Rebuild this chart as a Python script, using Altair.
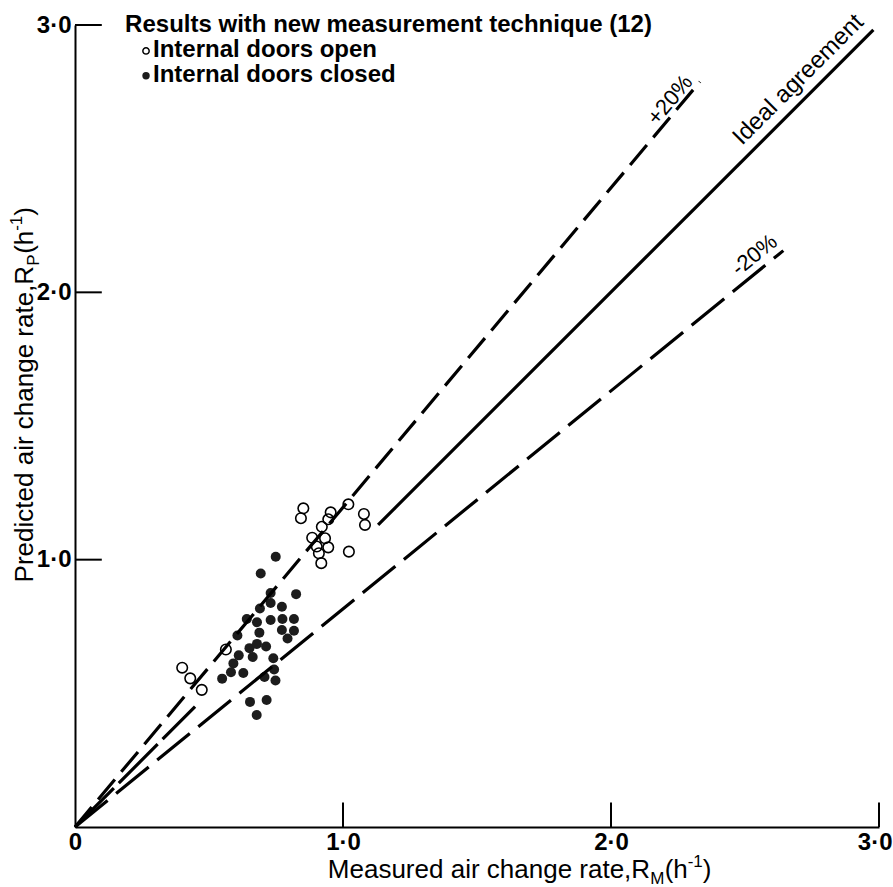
import altair as alt
import pandas as pd

FONT = "Liberation Sans"

# ---- data ----
OPEN_X = [0.852, 0.843, 0.954, 0.945, 1.020, 1.078, 1.082, 0.921, 0.885, 0.933,
          0.945, 0.902, 0.910, 0.919, 1.022, 0.563, 0.400, 0.430, 0.473]
OPEN_Y = [1.192, 1.155, 1.177, 1.151, 1.207, 1.171, 1.130, 1.123, 1.082, 1.080,
          1.046, 1.049, 1.024, 0.987, 1.030, 0.664, 0.596, 0.556, 0.513]

CLOSED_X = [0.749, 0.693, 0.730, 0.825, 0.730, 0.772, 0.690, 0.641, 0.679, 0.730,
            0.774, 0.817, 0.688, 0.772, 0.817, 0.793, 0.606, 0.651, 0.679, 0.713,
            0.663, 0.611, 0.740, 0.743, 0.591, 0.582, 0.549, 0.628, 0.707, 0.748,
            0.653, 0.715, 0.678]
CLOSED_Y = [1.011, 0.948, 0.875, 0.871, 0.838, 0.824, 0.817, 0.778, 0.766, 0.774,
            0.778, 0.778, 0.727, 0.737, 0.734, 0.705, 0.716, 0.669, 0.685, 0.675,
            0.636, 0.642, 0.631, 0.589, 0.612, 0.579, 0.555, 0.576, 0.561, 0.548,
            0.468, 0.475, 0.419]

PLUS20_X = [0.0, 2.332]
PLUS20_Y = [0.0, 2.788]
MINUS20_X = [0.0, 2.643]
MINUS20_Y = [0.0, 2.156]
IDEAL_LOW_X = [0.0, 0.448]
IDEAL_LOW_Y = [0.0, 0.450]
IDEAL_HIGH_X = [1.131, 2.979]
IDEAL_HIGH_Y = [1.130, 2.982]

X_TICKS = [0, 1, 2, 3]
Y_TICKS = [1, 2, 3]

LEGEND_TITLE = "Results with new measurement technique (12)"
LEGEND_LABELS = ["Internal doors open", "Internal doors closed"]
LINE_LABELS = ["+20%", "Ideal agreement", "-20%"]
X_TITLE = ["Measured air change rate,R", "M", "(h", "-1", ")"]
Y_TITLE = ["Predicted air change rate,R", "P", "(h", "-1", ")"]

# ---- scales and axes (shared by every layer so they merge) ----
xs = alt.Scale(domain=[0, 3], nice=False, zero=False)
ys = alt.Scale(domain=[0, 3], nice=False, zero=False)
LBL = "datum.value == 0 ? '0' : replace(format(datum.value, '.1f'), '.', '\u00b7')"

X_AXIS = alt.Axis(
    values=X_TICKS, labelExpr=LBL, ticks=False, grid=False, domainColor="black",
    domainWidth=2, labelFont=FONT, labelFontSize=24, labelFontWeight="bold",
    labelColor="black", labelPadding=3, title=None, labelOverlap=False,
    labelFlush=False,
    labelAlign={"condition": {"test": "datum.value == 3", "value": "right"}, "value": "center"},
    labelOffset={"condition": {"test": "datum.value == 3", "value": 13}, "value": 0})
Y_AXIS = alt.Axis(
    values=Y_TICKS, labelExpr=LBL, ticks=False, grid=False, domainColor="black",
    domainWidth=2, labelFont=FONT, labelFontSize=24, labelFontWeight="bold",
    labelColor="black", labelPadding=4, title=None, labelOverlap=False,
    labelFlush=False)


def XE():
    return alt.X("x:Q", scale=xs, axis=X_AXIS)


def YE():
    return alt.Y("y:Q", scale=ys, axis=Y_AXIS)


def enc_xy(chart):
    return chart.encode(x=XE(), y=YE())


def df_xy(xv, yv):
    return pd.DataFrame({"x": xv, "y": yv})


closed = enc_xy(alt.Chart(df_xy(CLOSED_X, CLOSED_Y)).mark_point(
    shape="circle", filled=True, size=100, fill="#1c1c1c", opacity=1, strokeWidth=0))

opened = enc_xy(alt.Chart(df_xy(OPEN_X, OPEN_Y)).mark_point(
    shape="circle", filled=False, size=110, stroke="black", strokeWidth=1.6, opacity=1))


def line(xv, yv, dash=None, width=3.2):
    kw = dict(color="black", strokeWidth=width, strokeCap="butt")
    if dash:
        kw["strokeDash"] = dash
    return enc_xy(alt.Chart(df_xy(xv, yv)).mark_line(**kw))


plus20 = line(PLUS20_X, PLUS20_Y, [26, 10])
minus20 = line(MINUS20_X, MINUS20_Y, [42, 11])
ideal_low = line(IDEAL_LOW_X, IDEAL_LOW_Y, [55, 7])
ideal_high = line(IDEAL_HIGH_X, IDEAL_HIGH_Y)

# inward ticks
xt = pd.DataFrame({"x": X_TICKS[1:], "y": 0.0, "y2": 0.092})
x_ticks = alt.Chart(xt).mark_rule(color="black", strokeWidth=2).encode(
    x=XE(), y=YE(), y2="y2:Q")
yt = pd.DataFrame({"y": Y_TICKS, "x": 0.0, "x2": 0.1})
y_ticks = alt.Chart(yt).mark_rule(color="black", strokeWidth=2).encode(
    y=YE(), x=XE(), x2="x2:Q")


def text(t, x, y, size=24, weight="normal", angle=0, align="left", baseline="alphabetic", dx=0, dy=0):
    return enc_xy(alt.Chart(pd.DataFrame({"x": [x], "y": [y], "t": [t]})).mark_text(
        font=FONT, fontSize=size, fontWeight=weight, angle=angle, align=align,
        baseline=baseline, dx=dx, dy=dy, color="black")).encode(text="t:N")


# line labels
lab_plus = text(LINE_LABELS[0], 2.22, 2.72, size=22, angle=310, align="center", baseline="middle")
lab_ideal = text(LINE_LABELS[1], 2.699, 2.795, size=24, angle=315, align="center", baseline="middle")
lab_minus = text(LINE_LABELS[2], 2.535, 2.14, size=22, angle=321, align="center", baseline="middle")

# legend
leg_title = text(LEGEND_TITLE, 0.187, 2.974, size=24, weight="bold")
leg_open_t = text(LEGEND_LABELS[0], 0.291, 2.881, size=24, weight="bold")
leg_closed_t = text(LEGEND_LABELS[1], 0.291, 2.787, size=24, weight="bold")
leg_open_s = enc_xy(alt.Chart(df_xy([0.265], [2.903])).mark_point(
    shape="circle", filled=False, size=40, stroke="black", strokeWidth=1.5, opacity=1))
leg_closed_s = enc_xy(alt.Chart(df_xy([0.265], [2.810])).mark_point(
    shape="circle", filled=True, size=55, fill="#1c1c1c", opacity=1, strokeWidth=0))

# axis titles made of pieces (for sub/superscripts)
XA, YA = 2.146, -0.191
xt1 = text(X_TITLE[0], XA, YA, size=26, align="right")
xt2 = text(X_TITLE[1], XA, YA, size=17, dy=6)
xt3 = text(X_TITLE[2], XA, YA, size=26, dx=14.5)
xt4 = text(X_TITLE[3], XA, YA, size=17, dx=37.5, dy=-11)
xt5 = text(X_TITLE[4], XA, YA, size=26, dx=52.5)

YX, YY = -0.157, 2.099
yt1 = text(Y_TITLE[0], YX, YY, size=26, angle=270, align="right")
yt2 = text(Y_TITLE[1], YX, YY, size=17, angle=270, dy=6)
yt3 = text(Y_TITLE[2], YX, YY, size=26, angle=270, dx=12)
yt4 = text(Y_TITLE[3], YX, YY, size=17, angle=270, dx=35, dy=-11)
yt5 = text(Y_TITLE[4], YX, YY, size=26, angle=270, dx=50)

chart = alt.layer(
    closed, x_ticks, y_ticks, plus20, minus20, ideal_low, ideal_high, opened,
    lab_plus, lab_ideal, lab_minus,
    leg_title, leg_open_t, leg_closed_t, leg_open_s, leg_closed_s,
    xt1, xt2, xt3, xt4, xt5, yt1, yt2, yt3, yt4, yt5,
).properties(
    width=804, height=802,
    autosize=alt.AutoSizeParams(type="none"),
    padding={"left": 75, "top": 25, "right": 14, "bottom": 60},
    background="white",
).configure_view(strokeOpacity=0)

chart.save("out.html", embed_options={"renderer": "svg", "actions": False})
